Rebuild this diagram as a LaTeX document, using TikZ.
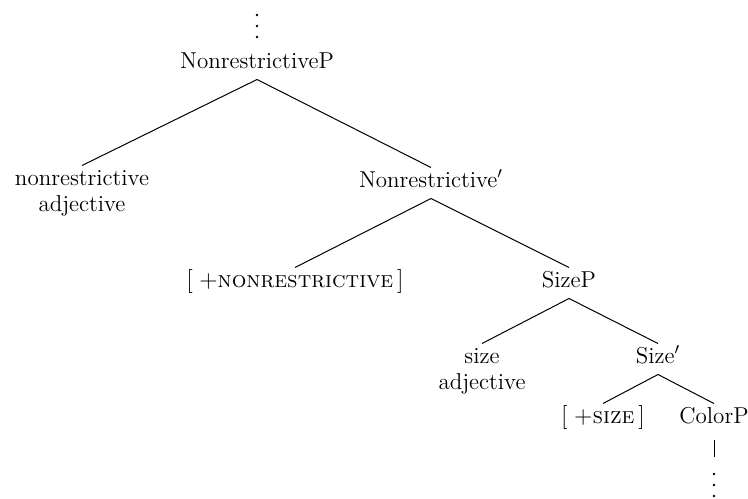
\documentclass[tikz,border=0pt]{standalone}
\usetikzlibrary{calc}
\begin{document}
\begin{tikzpicture}[x=0.5pt,y=-0.5pt,
  lbl/.style={anchor=base,inner sep=0pt,align=center,
    font=\fontsize{11.5pt}{13pt}\selectfont},
  branch/.style={line width=0.5pt},
  dot/.style={fill=black}]
\useasboundingbox (0,0) rectangle (748,498);

% labels (base anchor = baseline of the last line)
\node[lbl] (np)    at (257,68)  {NonrestrictiveP};
\node[lbl] (nadj)  at (82,211)  {nonrestrictive\\adjective};
\node[lbl] (nbar)  at (431,187) {Nonrestrictive$'$};
\node[lbl] (nfeat) at (295,287) {$[\;{+}$\textsc{nonrestrictive}$\,]$};
\node[lbl] (sp)    at (569,287) {SizeP};
\node[lbl] (sadj)  at (482,389) {size\\adjective};
\node[lbl] (sbar)  at (658,363) {Size$'$};
\node[lbl] (sfeat) at (603,423) {$[\;{+}$\textsc{size}$\,]$};
\node[lbl] (cp)    at (714,423) {ColorP};

% vertical ellipses above the root and below ColorP
\coordinate (dtop) at (257,26);
\coordinate (dbot) at (714,485);
\foreach \c in {dtop,dbot}
  \foreach \d in {-11,0,11}
    \fill[dot] ($(\c)+(0,\d)$) circle[radius=0.65pt];

% branches: from below the parent label to above the child's first line
\foreach \p/\c/\h in {np/nadj/45.5,np/nbar/19.5,nbar/nfeat/19.5,nbar/sp/19.5,
                      sp/sadj/45.5,sp/sbar/19.5,sbar/sfeat/19.5,sbar/cp/19.5}
  \draw[branch] ($(\p.base)+(0,11.5)$) -- ($(\c.base)+(0,-\h)$);
\draw[branch] ($(cp.base)+(0,17)$) -- ($(dbot)+(0,-28)$);
\end{tikzpicture}
\end{document}
